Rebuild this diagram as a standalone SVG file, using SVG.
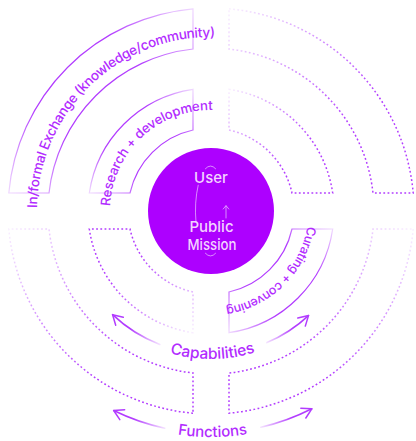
<svg xmlns="http://www.w3.org/2000/svg" width="416" height="441" viewBox="0 0 416 441">
<style>
.lbl{font-family:Inter,"Liberation Sans",Arial,sans-serif;font-weight:500;fill:#b22cff;}
.solid{fill:none;stroke-width:1.2;}
.dot{fill:none;stroke-width:1.5;stroke-dasharray:1.8 2.4;}
.arw{fill:none;stroke-width:1.6;stroke-linecap:round;}
.ctr{font-family:Inter,"Liberation Sans",Arial,sans-serif;font-weight:500;font-size:15px;fill:#f3d4ff;text-anchor:middle;}
.deco{fill:none;stroke:#f0d0ff;stroke-opacity:0.75;stroke-width:0.9;stroke-linecap:round;}
</style>
<defs>
<linearGradient id="gTL" x1="0" y1="1" x2="1" y2="0">
<stop offset="0" stop-color="#b23cff" stop-opacity="0.2"/>
<stop offset="0.3" stop-color="#b23cff" stop-opacity="1"/>
<stop offset="0.7" stop-color="#b23cff" stop-opacity="1"/>
<stop offset="1" stop-color="#b23cff" stop-opacity="0.2"/>
</linearGradient>
<linearGradient id="gBR" x1="1" y1="0" x2="0" y2="1">
<stop offset="0" stop-color="#b23cff" stop-opacity="0.2"/>
<stop offset="0.3" stop-color="#b23cff" stop-opacity="1"/>
<stop offset="0.7" stop-color="#b23cff" stop-opacity="1"/>
<stop offset="1" stop-color="#b23cff" stop-opacity="0.2"/>
</linearGradient>
<linearGradient id="gFade" x1="0" y1="0" x2="1" y2="1">
<stop offset="0" stop-color="#b23cff" stop-opacity="0.08"/>
<stop offset="0.35" stop-color="#b23cff" stop-opacity="0.6"/>
<stop offset="0.65" stop-color="#b23cff" stop-opacity="1"/>
</linearGradient>
<linearGradient id="gFadeRev" x1="1" y1="1" x2="0" y2="0">
<stop offset="0" stop-color="#b23cff" stop-opacity="0.08"/>
<stop offset="0.35" stop-color="#b23cff" stop-opacity="0.6"/>
<stop offset="0.65" stop-color="#b23cff" stop-opacity="1"/>
</linearGradient>
<linearGradient id="gFadeBR" x1="1" y1="0" x2="0" y2="1">
<stop offset="0" stop-color="#b23cff" stop-opacity="0.08"/>
<stop offset="0.35" stop-color="#b23cff" stop-opacity="0.6"/>
<stop offset="0.65" stop-color="#b23cff" stop-opacity="1"/>
</linearGradient>
<linearGradient id="aCL" gradientUnits="userSpaceOnUse" x1="160" y1="344" x2="113" y2="315">
<stop offset="0" stop-color="#b23cff" stop-opacity="0.15"/>
<stop offset="0.6" stop-color="#b23cff" stop-opacity="1"/>
</linearGradient>
<linearGradient id="aCR" gradientUnits="userSpaceOnUse" x1="267" y1="343" x2="309" y2="316">
<stop offset="0" stop-color="#b23cff" stop-opacity="0.15"/>
<stop offset="0.6" stop-color="#b23cff" stop-opacity="1"/>
</linearGradient>
<linearGradient id="aFL" gradientUnits="userSpaceOnUse" x1="165" y1="428" x2="114" y2="411">
<stop offset="0" stop-color="#b23cff" stop-opacity="0.15"/>
<stop offset="0.6" stop-color="#b23cff" stop-opacity="1"/>
</linearGradient>
<linearGradient id="aFR" gradientUnits="userSpaceOnUse" x1="261" y1="427" x2="312" y2="409">
<stop offset="0" stop-color="#b23cff" stop-opacity="0.15"/>
<stop offset="0.6" stop-color="#b23cff" stop-opacity="1"/>
</linearGradient>
<marker id="head" markerUnits="userSpaceOnUse" markerWidth="14" markerHeight="14" refX="11" refY="6.5" orient="auto" viewBox="0 0 14 14">
<path d="M1.5,1 L11,6.5 L1.5,12" fill="none" stroke="#b23cff" stroke-width="1.5" stroke-linecap="round" stroke-linejoin="round"/>
</marker>
<path id="pInf" d="M37.03,207.96 A174 174 0 0 1 217.07,37.1"/>
<path id="pRes" d="M110.12,206.07 A101 101 0 0 1 214.5,110.06"/>
<path id="pCur" d="M307.3,226.25 A97.5 97.5 0 0 1 219.5,308.1"/>
<path id="pCap" d="M63,211 A148 148 0 0 0 359,211"/>
<path id="pFun" d="M-15,211 A226 226 0 0 0 437,211"/>
</defs>

<g id="node-informal-exchange">
<path class="solid" stroke="url(#gTL)" d="M8.8,193 A203 203 0 0 1 193,8.8 L193,49 A163 163 0 0 0 49,193 Z"/>
<text class="lbl" font-size="13.5"><textPath href="#pInf" textLength="274" lengthAdjust="spacing">In/formal Exchange (knowledge/community)</textPath></text>
</g>
<g id="node-research">
<path class="solid" stroke="url(#gTL)" d="M89.3,193 A123 123 0 0 1 193,89.3 L193,130 A83 83 0 0 0 130,193 Z"/>
<text class="lbl" font-size="13.2"><textPath href="#pRes" textLength="155" lengthAdjust="spacing">Research + development</textPath></text>
</g>
<g id="node-tr-outer">
<path class="dot" stroke="url(#gFade)" d="M229,8.8 A203 203 0 0 1 413.2,193 L373,193 A163 163 0 0 0 229,49 Z"/>
</g>
<g id="node-tr-inner">
<path class="dot" stroke="url(#gFade)" d="M229,89.3 A123 123 0 0 1 332.7,193 L292,193 A83 83 0 0 0 229,130 Z"/>
</g>
<g id="node-bl-outer">
<path class="dot" stroke="url(#gFade)" d="M193,413.2 A203 203 0 0 1 8.8,229 L49,229 A163 163 0 0 0 193,373 Z"/>
</g>
<g id="node-bl-inner">
<path class="dot" stroke="url(#gFadeRev)" d="M193,332.7 A123 123 0 0 1 89.3,229 L130,229 A83 83 0 0 0 193,292 Z"/>
</g>
<g id="node-br-outer">
<path class="dot" stroke="url(#gFadeBR)" d="M413.2,229 A203 203 0 0 1 229,413.2 L229,373 A163 163 0 0 0 373,229 Z"/>
</g>
<g id="node-curating">
<path class="solid" stroke="url(#gBR)" d="M332.7,229 A123 123 0 0 1 229,332.7 L229,292 A83 83 0 0 0 292,229 Z"/>
<text class="lbl" font-size="12.5"><textPath href="#pCur" textLength="123" lengthAdjust="spacing">Curating + convening</textPath></text>
</g>

<g id="node-center">
<circle cx="211" cy="211" r="63" fill="#ad00ff"/>
<path class="deco" d="M205.4,168.7 A15 45 0 0 1 215.6,168.7"/>
<path class="deco" d="M198.2,185.2 A15 45 0 0 0 196,222.6"/>
<path class="deco" d="M215.6,253.3 A15 45 0 0 1 205.4,253.3"/>
<path class="deco" d="M226,218 L226,206 M223.2,209 L226,205.6 L228.8,209"/>
<text class="ctr" x="211" y="183">User</text>
<text class="ctr" x="211.5" y="232">Public</text>
<text class="ctr" x="212" y="250" textLength="49" lengthAdjust="spacingAndGlyphs">Mission</text>
</g>

<g id="node-capabilities">
<text class="lbl" font-size="15.5" text-anchor="middle"><textPath href="#pCap" startOffset="234">Capabilities</textPath></text>
</g>
<g id="node-functions">
<text class="lbl" font-size="15" text-anchor="middle"><textPath href="#pFun" startOffset="356.5">Functions</textPath></text>
</g>

<g id="connectors">
<path class="arw" stroke="url(#aCL)" marker-end="url(#head)" d="M159.8,344.5 A143 143 0 0 1 112.6,314.7"/>
<path class="arw" stroke="url(#aCR)" marker-end="url(#head)" d="M266.9,342.6 A143 143 0 0 0 308.5,315.6"/>
<path class="arw" stroke="url(#aFL)" marker-end="url(#head)" d="M164.8,428.2 A222 222 0 0 1 113.7,410.5"/>
<path class="arw" stroke="url(#aFR)" marker-end="url(#head)" d="M260.9,427.3 A222 222 0 0 0 311.8,408.8"/>
</g>
</svg>
